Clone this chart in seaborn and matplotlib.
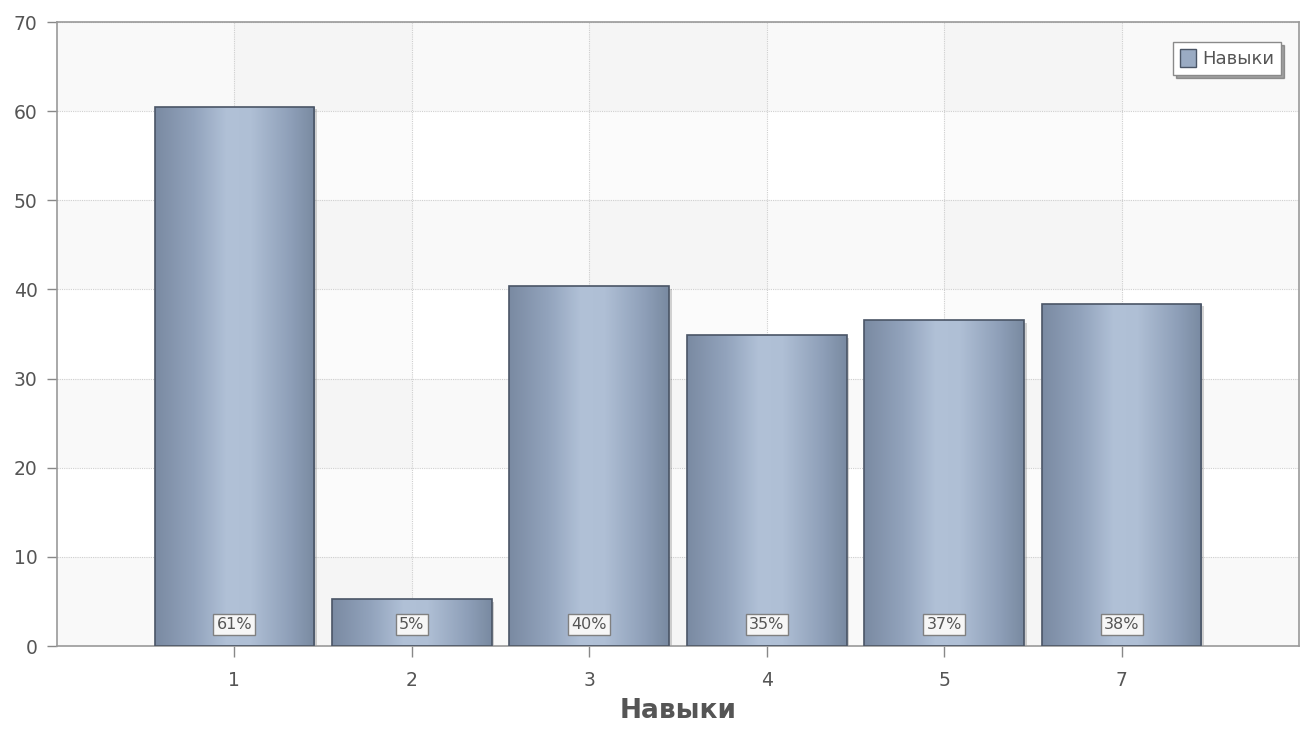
import numpy as np
import pandas as pd
import matplotlib
matplotlib.use("Agg")
import matplotlib.pyplot as plt
from matplotlib.colors import LinearSegmentedColormap
from matplotlib.patches import Rectangle
import matplotlib.patheffects as pe
import seaborn as sns

categories = ["1", "2", "3", "4", "5", "7"]
values = [60.5, 5.3, 40.4, 34.9, 36.6, 38.4]
labels = ["61%", "5%", "40%", "35%", "37%", "38%"]
series_name = "Навыки"
axis_title = "Навыки"
yticks = [0, 10, 20, 30, 40, 50, 60, 70]

sns.set_theme(style="white")
plt.rcParams['font.family'] = ['DejaVu Sans']

df = pd.DataFrame({"cat": categories, "val": values})

fig = plt.figure(figsize=(13.04, 7.33), dpi=100)
ax = fig.add_axes([57/1304, 87/733, (1299-57)/1304, (646-22)/733])
ax.set_facecolor("white")

sns.barplot(data=df, x="cat", y="val", order=categories, width=0.9,
            color="#9aabc3", edgecolor="none", linewidth=0, ax=ax, zorder=2)
bars = list(ax.containers[0].patches)

# background bands
for lo in range(0, 70, 20):
    ax.axhspan(lo, lo + 10, color="#f9f9f9", zorder=0, lw=0)
for i in (0, 2, 4):
    ax.axvspan(i, i + 1, color="black", alpha=0.015, zorder=0.1, lw=0)

grad_cmap = LinearSegmentedColormap.from_list(
    "bar", [(0.0, "#7a8aa2"), (0.25, "#93a4bd"), (0.45, "#b1c1d7"),
            (0.6, "#afbfd5"), (0.85, "#8e9fb8"), (1.0, "#798aa1")])
grad = np.linspace(0, 1, 256).reshape(1, -1)

for p in bars:
    x0, w, h = p.get_x(), p.get_width(), p.get_height()
    p.set_path_effects([pe.SimplePatchShadow(offset=(2, -2), alpha=0.25, shadow_rgbFace="#555555"), pe.Normal()])
    im = ax.imshow(grad, cmap=grad_cmap, aspect="auto",
                   extent=[x0, x0 + w, 0, h], zorder=2.5, interpolation="bilinear")
    im.set_clip_path(p)
    ax.add_patch(Rectangle((x0, 0), w, h, fill=False, edgecolor="#4a5566",
                           linewidth=1.2, zorder=3))

for p, lab in zip(bars, labels):
    cx = p.get_x() + p.get_width() / 2
    ax.text(cx, 2.4, lab, ha="center", va="center", fontsize=11.5, color="#555555",
            zorder=5,
            bbox=dict(boxstyle="square,pad=0.2", facecolor="#f6f6f6",
                      edgecolor="#808080", linewidth=1))

ax.set_xlim(-1, 6)
ax.set_ylim(0, 70)
ax.set_yticks(yticks)
ax.set_yticklabels([str(t) for t in yticks])
ax.grid(True, color="#cfcfcf", linestyle=(0, (1, 1)), linewidth=0.8, zorder=1)
ax.set_axisbelow(True)
for s in ax.spines.values():
    s.set_color("#9a9a9a")
    s.set_linewidth(1.2)
    s.set_visible(True)
ax.tick_params(axis="y", length=7, width=1, color="#888888", labelcolor="#555555",
               labelsize=13.5, pad=7, left=True)
ax.tick_params(axis="x", length=8, width=1, color="#888888", labelcolor="#555555",
               labelsize=13.5, pad=10, bottom=True)
ax.set_ylabel("")
ax.set_xlabel(axis_title, fontsize=19, fontweight="bold", color="#555555", labelpad=6)

handle = Rectangle((0, 0), 1, 1, facecolor="#9aabc3", edgecolor="#4a5566", linewidth=1)
leg = ax.legend([handle], [series_name], loc="upper right", bbox_to_anchor=(0.9855, 0.968),
                borderaxespad=0,
                fontsize=13, frameon=True, fancybox=False, shadow=True,
                handlelength=0.9, handleheight=1.1, handletextpad=0.3, borderpad=0.4,
                edgecolor="#8a8a8a", labelcolor="#555555")
leg.get_frame().set_linewidth(1)
leg.set_zorder(10)

fig.savefig("out.png", dpi=100)
